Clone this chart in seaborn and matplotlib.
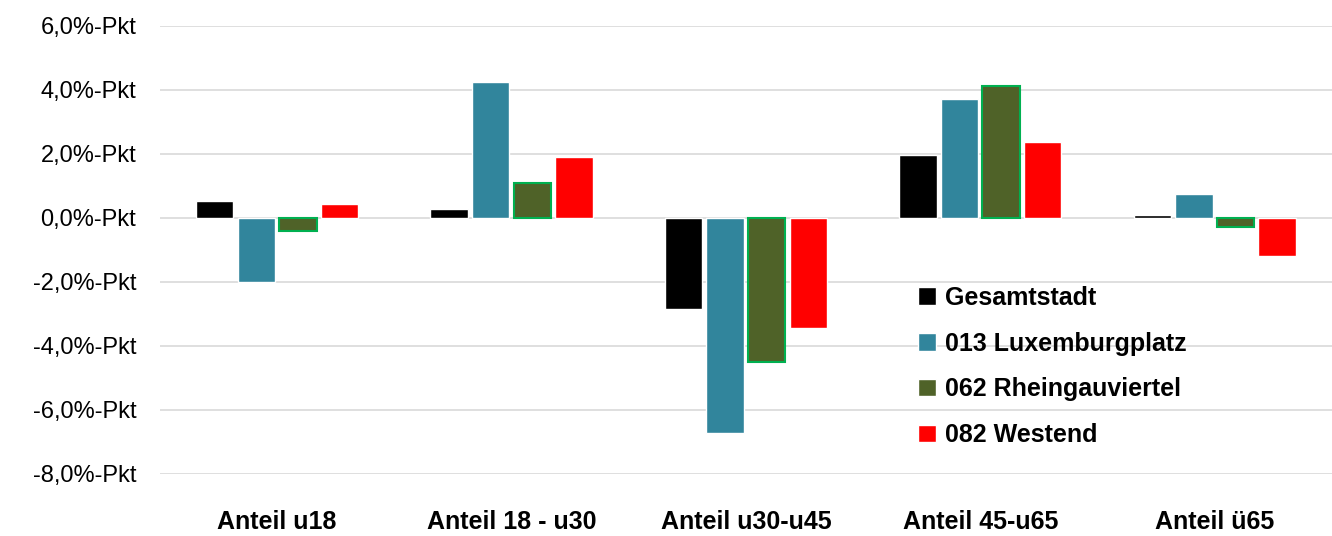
import pandas as pd
import matplotlib.pyplot as plt
import seaborn as sns

# Data (Veränderung in %-Punkten)
categories = ['Anteil u18', 'Anteil 18 - u30', 'Anteil u30-u45', 'Anteil 45-u65', 'Anteil ü65']
series = ['Gesamtstadt', '013 Luxemburgplatz', '062 Rheingauviertel', '082 Westend']
gesamtstadt = [0.53, 0.28, -2.84, 1.97, 0.10]
luxemburgplatz = [-1.99, 4.25, -6.72, 3.72, 0.75]
rheingauviertel = [-0.40, 1.08, -4.50, 4.12, -0.29]
westend = [0.44, 1.90, -3.44, 2.38, -1.18]
colors = ['#000000', '#31859C', '#4F6228', '#FF0000']

values = [gesamtstadt, luxemburgplatz, rheingauviertel, westend]
rows = []
for name, vals in zip(series, values):
    for cat, v in zip(categories, vals):
        rows.append({'Kategorie': cat, 'Gebiet': name, 'Wert': v})
df = pd.DataFrame(rows)

sns.set_style('white')
plt.rcParams['font.family'] = ['Liberation Sans', 'DejaVu Sans']
plt.rcParams['text.color'] = 'black'
plt.rcParams['xtick.color'] = 'black'
plt.rcParams['ytick.color'] = 'black'

fig = plt.figure(figsize=(13.32, 5.36), dpi=100)
ax = fig.add_axes([0.12, 0.1157, 0.88, 0.8358])

sns.barplot(data=df, x='Kategorie', y='Wert', hue='Gebiet', order=categories,
            hue_order=series, palette=colors, width=0.71, gap=0.1,
            saturation=1, ax=ax, zorder=3)

# green outline on Rheingauviertel bars
for patch in ax.containers[2]:
    patch.set_edgecolor('#00B050')
    patch.set_linewidth(1.5)

ax.set_ylim(-8, 6)
yticks = [-8, -6, -4, -2, 0, 2, 4, 6]
ax.set_yticks(yticks)
ax.set_yticklabels([f"{t:.1f}%-Pkt".replace('.', ',') for t in yticks], fontsize=17)
ax.yaxis.grid(True, color='#D9D9D9', linewidth=1.2, zorder=0)
ax.set_axisbelow(True)
ax.tick_params(axis='y', length=0, pad=17)
ax.tick_params(axis='x', length=0, pad=26)
for lbl in ax.get_xticklabels():
    lbl.set_fontweight('bold')
    lbl.set_fontsize(18)
ax.set_xlabel('')
ax.set_ylabel('')
sns.despine(ax=ax, left=True, bottom=True)

handles, labels = ax.get_legend_handles_labels()
leg = ax.legend(handles, labels, loc='upper left', bbox_to_anchor=(0.628, 0.47),
                frameon=False, prop={'weight': 'bold', 'size': 18},
                handlelength=0.7, handleheight=0.7, handletextpad=0.35,
                labelspacing=0.87)

fig.savefig('out.png', dpi=100)
